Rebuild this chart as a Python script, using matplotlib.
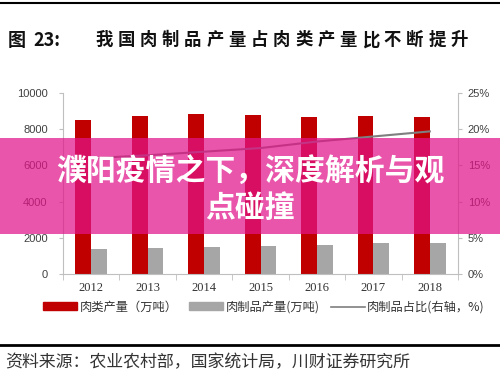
import numpy as np
import matplotlib
matplotlib.use('Agg')
import matplotlib.pyplot as plt
from matplotlib.patches import Rectangle, Patch
from matplotlib.lines import Line2D

years = ['2012', '2013', '2014', '2015', '2016', '2017', '2018']
meat = [8500, 8750, 8850, 8780, 8700, 8730, 8700]          # 肉类产量（万吨）
processed = [1390, 1460, 1520, 1550, 1610, 1700, 1700]     # 肉制品产量(万吨)
share = [16.0, 16.4, 16.9, 17.4, 18.3, 19.0, 19.7]          # 肉制品占比 %

cjk = ['Noto Sans CJK SC', 'DejaVu Sans']
plt.rcParams['font.family'] = cjk

fig = plt.figure(figsize=(5, 3.75), dpi=100)
ax = fig.add_axes([0.126, 0.269, 0.79, 0.483])
x = np.arange(len(years))
w = 0.28
ax.bar(x - w/2, meat, w, color='#C00000', zorder=2)
ax.bar(x + w/2, processed, w, color='#A6A6A6', zorder=2)
ax.set_xlim(-0.5, 6.5)
ax.set_ylim(0, 10000)
ax.set_yticks(range(0, 10001, 2000))
ax.set_xticks(x)
ax.set_xticklabels(years, fontfamily='Liberation Serif', fontsize=9, color='#333333')
ax.set_xticks(np.arange(-0.5, 7, 1), minor=True)
ax.tick_params(axis='x', which='major', length=0, pad=6)
ax.tick_params(axis='x', which='minor', length=4, color='#BFBFBF')
ax.tick_params(axis='y', length=3, color='#BFBFBF', labelsize=8, labelcolor='#404040', pad=8)
for t in ax.get_yticklabels():
    t.set_fontfamily('Liberation Sans')
for s in ['top', 'right']:
    ax.spines[s].set_visible(False)
for s in ['left', 'bottom']:
    ax.spines[s].set_color('#BFBFBF')

ax2 = ax.twinx()
ax2.plot(x, share, color='#7F7F7F', lw=1.5, zorder=3)
ax2.set_ylim(0, 25)
ax2.set_yticks(range(0, 26, 5))
ax2.set_yticklabels(['%d%%' % v for v in range(0, 26, 5)], fontfamily='Liberation Sans')
ax2.tick_params(axis='y', length=3, color='#BFBFBF', labelsize=8, labelcolor='#404040', pad=4)
for s in ['top', 'left', 'bottom']:
    ax2.spines[s].set_visible(False)
ax2.spines['right'].set_color('#BFBFBF')

handles = [Patch(color='#C00000'), Patch(color='#A6A6A6'), Line2D([], [], color='#7F7F7F', lw=1.2)]
labels = ['肉类产量（万吨）', '肉制品产量(万吨)', '肉制品占比(右轴，%)']
fig.legend(handles, labels, loc='center', bbox_to_anchor=(0.528, 0.181), ncol=3, frameon=False,
           fontsize=8.8, handlelength=2.8, handleheight=0.6, handletextpad=0.2, columnspacing=0.9,
           labelcolor='#333333')

# title
fig.text(0.016, 0.893, '图', fontsize=13, fontweight='bold', va='center', color='#111111')
fig.text(0.066, 0.893, '23:', fontsize=13, fontweight='bold', va='center', color='#111111')
title = '我国肉制品产量占肉类产量比不断提升'
for i, ch in enumerate(title):
    fig.text((104 + i * 22.2) / 500, 0.893, ch, fontsize=12.5, fontweight='bold',
             va='center', ha='center', color='#111111')

# rules
fig.add_artist(Line2D([0, 1], [0.992, 0.992], color='black', lw=1.5, transform=fig.transFigure))
fig.add_artist(Line2D([0, 1], [0.08, 0.08], color='black', lw=2, transform=fig.transFigure))
fig.text(0.01, 0.035, '资料来源：农业农村部，国家统计局，川财证券研究所', fontsize=12.2,
         va='center', color='#333333')

# pink banner
fig.patches.append(Rectangle((0, (375 - 234) / 375), 1, 96 / 375, transform=fig.transFigure,
                             facecolor='#E01489', alpha=0.72, edgecolor='none', zorder=5))
fig.text(0.5, (375 - 172) / 375, '濮阳疫情之下，深度解析与观', fontsize=21.5, fontweight='bold',
         color='white', ha='center', va='center', zorder=6)
fig.text(0.5, (375 - 208) / 375, '点碰撞', fontsize=21.5, fontweight='bold',
         color='white', ha='center', va='center', zorder=6)

fig.savefig('out.png', dpi=100)
